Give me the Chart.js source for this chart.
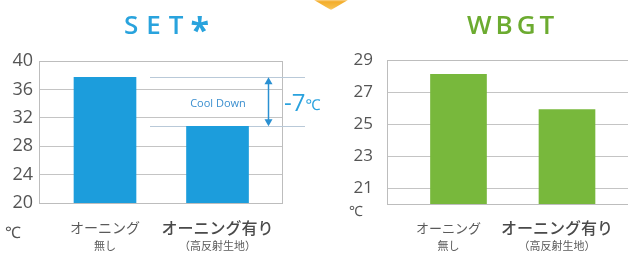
<!DOCTYPE html>
<html>
<head>
<meta charset="utf-8">
<script src="https://cdn.jsdelivr.net/npm/chart.js@4/dist/chart.umd.min.js"></script>
<style>
  html, body { margin: 0; padding: 0; background: #fff; }
  body { width: 628px; height: 255px; position: relative; overflow: hidden; }
  canvas { position: absolute; top: 0; }
  #setChart { left: 0; }
  #wbgtChart { left: 340px; }
  #marker {
    position: absolute; left: 314px; top: 0; width: 34px; height: 10px;
    background: linear-gradient(#f3a81f, #f8c65a);
    clip-path: polygon(0 0, 100% 0, 50% 100%);
    filter: blur(1px);
  }
</style>
</head>
<body>
<div id="marker"></div>
<canvas id="setChart" width="340" height="255"></canvas>
<canvas id="wbgtChart" width="292" height="255"></canvas>
<script>
/* ---------------- DATA ---------------- */
const catLine1 = ["オーニング", "オーニング有り"];
const catLine2 = ["無し", "（高反射生地）"];

const setValues = [37.7, 30.8];
const wbgtValues = [28.1, 25.9];

const setTicks = [20, 24, 28, 32, 36, 40];
const wbgtTicks = [21, 23, 25, 27, 29];

const setTitle = "SET*";
const wbgtTitle = "WBGT";
const unitLabel = "℃";
const coolDownText = "Cool Down";
const diffText = "-7";

const NUM_FONT = "'Open Sans', 'Noto Sans', sans-serif";
const JP_FONT = "'Noto Sans CJK JP', sans-serif";

/* ---------------- DECORATION PLUGIN ---------------- */
const decor = {
    id: "decor",

    beforeDatasetsDraw(chart) {
        const o = chart.options.plugins.decor;
        const a = chart.chartArea;
        const ctx = chart.ctx;
        ctx.save();
        ctx.strokeStyle = "#bdbdbd";
        ctx.lineWidth = 1;
        ctx.strokeRect(Math.round(a.left) + 0.5, Math.round(a.top) + 0.5,
            Math.round(a.right - a.left) - 1, Math.round(a.bottom - a.top));

        // cool down reference lines
        if (o.coolDown) {
            const ys = chart.scales.y;
            ctx.strokeStyle = "#b9c9d8";
            o.values.forEach(function (v) {
                const y = Math.round(ys.getPixelForValue(v)) + 0.5;
                ctx.beginPath();
                ctx.moveTo(150, y);
                ctx.lineTo(305, y);
                ctx.stroke();
            });
        }
        ctx.restore();
    },

    afterDraw(chart) {
        const o = chart.options.plugins.decor;
        const ctx = chart.ctx;
        const meta = chart.getDatasetMeta(0);
        ctx.save();

        // title, drawn letter by letter (the asterisk is set larger)
        ctx.fillStyle = o.titleColor;
        ctx.textAlign = "left";
        ctx.textBaseline = "alphabetic";
        let tx = o.titleX;
        for (const ch of o.title) {
            if (ch === "*") {
                ctx.font = "bold 34px " + NUM_FONT;
                ctx.fillText(ch, tx - 1, 42);
            } else {
                ctx.font = "600 26px " + NUM_FONT;
                ctx.fillText(ch, tx, 34);
            }
            tx += ctx.measureText(ch).width + o.titleGap;
        }

        // value labels inside bars
        ctx.fillStyle = "#ffffff";
        ctx.textAlign = "center";
        ctx.font = "bold 16px " + NUM_FONT;
        ctx.textBaseline = "middle";
        meta.data.forEach(function (bar, i) {
            ctx.fillText(o.values[i].toFixed(1), bar.x, (bar.y + bar.base) / 2);
        });

        // category labels
        const xs = chart.scales.x;
        catLine1.forEach(function (t, i) {
            const cx = xs.getPixelForValue(i) + o.labelShift;
            if (i === 0) {
                ctx.fillStyle = "#5a5a5a";
                ctx.font = o.cat1Size + "px " + JP_FONT;
            } else {
                ctx.fillStyle = "#4a4a4a";
                ctx.font = "500 16px " + JP_FONT;
            }
            ctx.fillText(t, cx, 228);
            ctx.fillStyle = "#5a5a5a";
            ctx.font = "11px " + JP_FONT;
            ctx.fillText(catLine2[i], cx, 246);
        });

        // unit
        ctx.fillStyle = "#555";
        ctx.font = o.unitSize + "px " + NUM_FONT;
        ctx.fillText(unitLabel, o.unitX, o.unitY);

        // cool down annotation
        if (o.coolDown) {
            const ys = chart.scales.y;
            const y1 = ys.getPixelForValue(o.values[0]);
            const y2 = ys.getPixelForValue(o.values[1]);
            const ax = 268.5;
            ctx.strokeStyle = "#2a90d2";
            ctx.fillStyle = "#2a90d2";
            ctx.lineWidth = 1.5;
            ctx.beginPath();
            ctx.moveTo(ax, y1 + 4);
            ctx.lineTo(ax, y2 - 4);
            ctx.stroke();
            ctx.beginPath();
            ctx.moveTo(ax, y1);
            ctx.lineTo(ax - 4, y1 + 7);
            ctx.lineTo(ax + 4, y1 + 7);
            ctx.closePath();
            ctx.fill();
            ctx.beginPath();
            ctx.moveTo(ax, y2);
            ctx.lineTo(ax - 4, y2 - 7);
            ctx.lineTo(ax + 4, y2 - 7);
            ctx.closePath();
            ctx.fill();

            ctx.fillStyle = "#3b8fcf";
            ctx.font = "11px " + NUM_FONT;
            ctx.textAlign = "center";
            ctx.fillText(coolDownText, 218, 104);

            ctx.fillStyle = "#2aa2de";
            ctx.textAlign = "left";
            ctx.font = "24px " + NUM_FONT;
            ctx.fillText(diffText, 284, 104);
            const w = ctx.measureText(diffText).width;
            ctx.font = "15px " + NUM_FONT;
            ctx.fillText(unitLabel, 284 + w, 106);
        }
        ctx.restore();
    }
};

/* ---------------- CHART SETUP ---------------- */
function makeChart(id, o) {
    return new Chart(document.getElementById(id), {
        type: "bar",
        data: {
            datasets: [{
                data: o.values.map(function (v, i) { return { x: i, y: v }; }),
                backgroundColor: o.barColor,
                barThickness: o.barW
            }]
        },
        options: {
            responsive: false,
            animation: false,
            devicePixelRatio: 1,
            layout: { padding: { top: o.top, right: o.padR, left: 0, bottom: 0 } },
            plugins: {
                legend: { display: false },
                tooltip: { enabled: false },
                decor: o
            },
            scales: {
                x: {
                    type: "linear",
                    offset: false,
                    min: o.xMin,
                    max: o.xMax,
                    grid: { display: false },
                    border: { display: false },
                    ticks: { display: false },
                    afterFit: function (s) { s.height = o.xH; }
                },
                y: {
                    min: o.yMin,
                    max: o.yMax,
                    afterBuildTicks: function (s) {
                        s.ticks = o.ticks.map(function (v) { return { value: v }; });
                    },
                    grid: { color: "#c4c4c4", drawTicks: false },
                    border: { display: false },
                    ticks: {
                        color: "#555",
                        padding: o.tickPad,
                        font: { family: NUM_FONT, size: o.tickSize }
                    },
                    afterFit: function (s) { s.width = o.yW; }
                }
            }
        },
        plugins: [decor]
    });
}

makeChart("setChart", {
    values: setValues, ticks: setTicks, yMin: 20, yMax: 40,
    barColor: "#1c9ddc", barW: 62,
    xMin: -0.5866, xMax: 1.582,
    top: 61, padR: 57, xH: 52, yW: 39,
    tickPad: 6, tickSize: 18,
    title: setTitle, titleColor: "#29a3dd", titleX: 124, titleGap: 8,
    labelShift: 0, cat1Size: 14,
    unitSize: 16, unitX: 13, unitY: 233,
    coolDown: true
});

makeChart("wbgtChart", {
    values: wbgtValues, ticks: wbgtTicks, yMin: 20, yMax: 29,
    barColor: "#78b83c", barW: 56,
    xMin: -0.6589, xMax: 1.5807,
    top: 60, padR: 2, xH: 51, yW: 47,
    tickPad: 14, tickSize: 17,
    title: wbgtTitle, titleColor: "#6cab30", titleX: 127, titleGap: 4,
    labelShift: -10, cat1Size: 13,
    unitSize: 14, unitX: 16, unitY: 212,
    coolDown: false
});
</script>
</body>
</html>
